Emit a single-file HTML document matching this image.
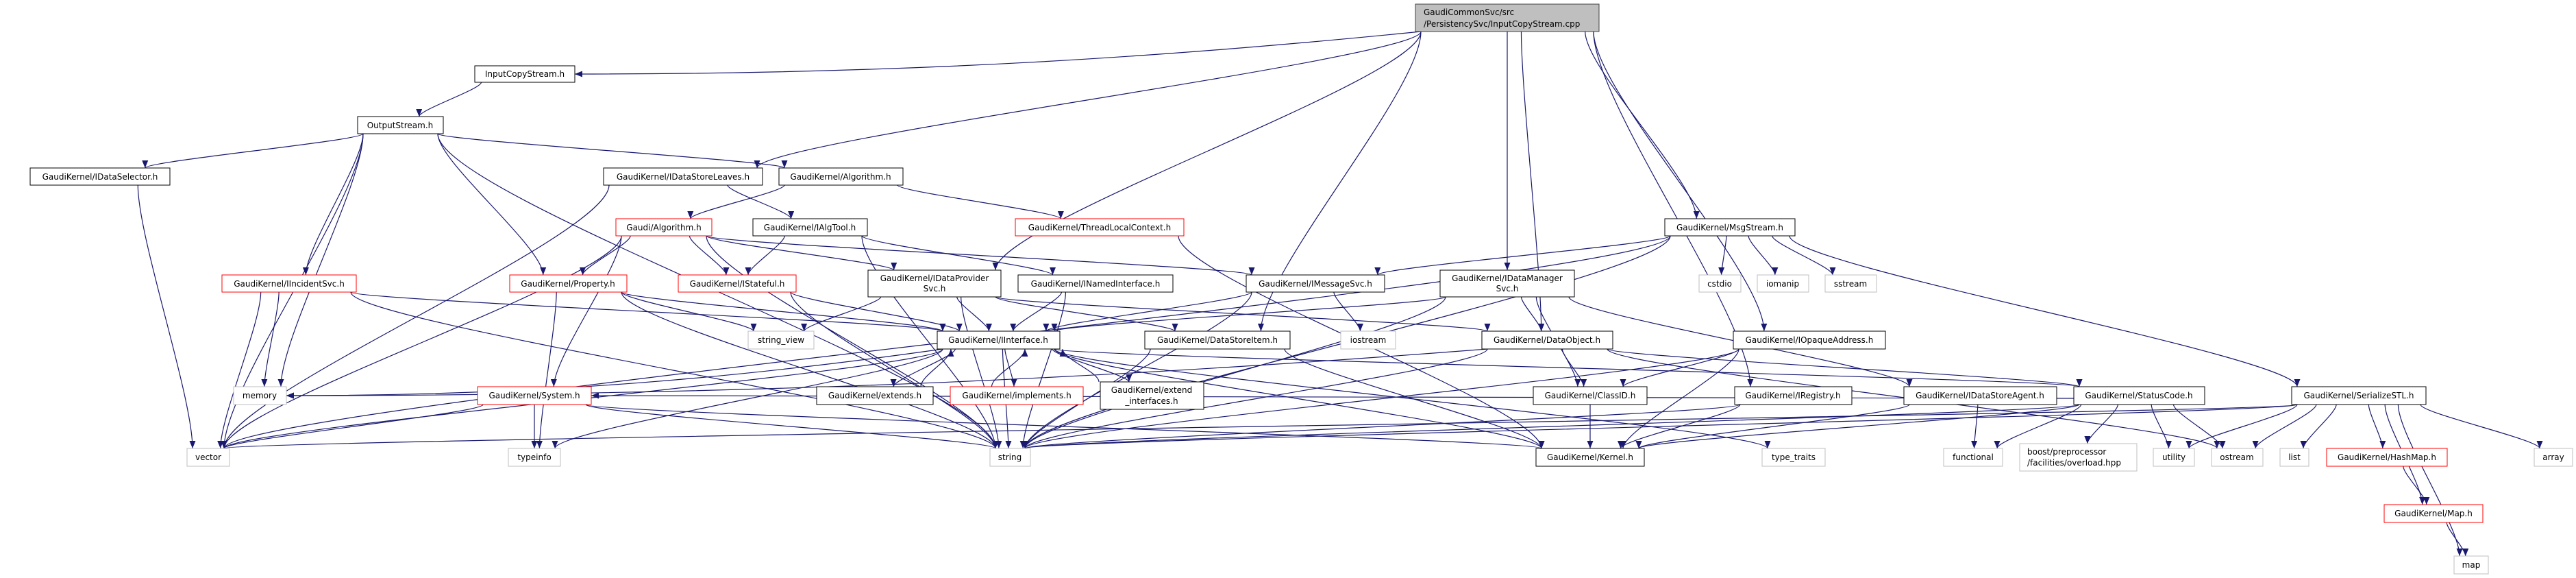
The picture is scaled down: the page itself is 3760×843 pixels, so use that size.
<!DOCTYPE html>
<html><head><meta charset="utf-8"><style>
html,body{margin:0;padding:0;background:#fff;}
svg{display:block;}
text{font-family:"DejaVu Sans","Liberation Sans",sans-serif;font-size:12px;fill:#000;}
</style></head><body>
<svg id="g" xmlns="http://www.w3.org/2000/svg" width="3760" height="843" viewBox="0 0 3760 843">
<defs><marker id="a" markerUnits="userSpaceOnUse" markerWidth="12" markerHeight="10" refX="11" refY="4.5" orient="auto"><path d="M0,0 L11,4.5 L0,9 z" fill="#191970"/></marker></defs>
<g id="edges" fill="none" stroke="#191970" stroke-width="1.2"></g>
<g id="nodes">
<rect x="2066" y="6" width="268" height="40" fill="#bfbfbf" stroke="#404040"/><text x="2078" y="22">GaudiCommonSvc/src</text><text x="2078" y="39">/PersistencySvc/InputCopyStream.cpp</text>
<rect x="693" y="96" width="146" height="24" fill="#fff" stroke="#000"/><text x="766" y="112" text-anchor="middle">InputCopyStream.h</text>
<rect x="522" y="170" width="125" height="25" fill="#fff" stroke="#000"/><text x="584" y="187" text-anchor="middle">OutputStream.h</text>
<rect x="44" y="245" width="204" height="25" fill="#fff" stroke="#000"/><text x="146" y="262" text-anchor="middle">GaudiKernel/IDataSelector.h</text>
<rect x="881" y="245" width="232" height="25" fill="#fff" stroke="#000"/><text x="997" y="262" text-anchor="middle">GaudiKernel/IDataStoreLeaves.h</text>
<rect x="1137" y="245" width="181" height="25" fill="#fff" stroke="#000"/><text x="1227" y="262" text-anchor="middle">GaudiKernel/Algorithm.h</text>
<rect x="899" y="319" width="140" height="25" fill="#fff" stroke="#f00"/><text x="969" y="336" text-anchor="middle">Gaudi/Algorithm.h</text>
<rect x="1099" y="319" width="167" height="25" fill="#fff" stroke="#000"/><text x="1182" y="336" text-anchor="middle">GaudiKernel/IAlgTool.h</text>
<rect x="1482" y="319" width="246" height="25" fill="#fff" stroke="#f00"/><text x="1605" y="336" text-anchor="middle">GaudiKernel/ThreadLocalContext.h</text>
<rect x="2430" y="319" width="190" height="25" fill="#fff" stroke="#000"/><text x="2525" y="336" text-anchor="middle">GaudiKernel/MsgStream.h</text>
<rect x="324" y="401" width="196" height="25" fill="#fff" stroke="#f00"/><text x="422" y="418" text-anchor="middle">GaudiKernel/IIncidentSvc.h</text>
<rect x="744" y="401" width="171" height="25" fill="#fff" stroke="#f00"/><text x="829" y="418" text-anchor="middle">GaudiKernel/Property.h</text>
<rect x="990" y="401" width="172" height="25" fill="#fff" stroke="#f00"/><text x="1076" y="418" text-anchor="middle">GaudiKernel/IStateful.h</text>
<rect x="1267" y="394" width="194" height="39" fill="#fff" stroke="#000"/><text x="1364" y="410" text-anchor="middle">GaudiKernel/IDataProvider</text><text x="1364" y="425" text-anchor="middle">Svc.h</text>
<rect x="1486" y="401" width="226" height="25" fill="#fff" stroke="#000"/><text x="1599" y="418" text-anchor="middle">GaudiKernel/INamedInterface.h</text>
<rect x="1819" y="401" width="202" height="25" fill="#fff" stroke="#000"/><text x="1920" y="418" text-anchor="middle">GaudiKernel/IMessageSvc.h</text>
<rect x="2102" y="394" width="196" height="39" fill="#fff" stroke="#000"/><text x="2200" y="410" text-anchor="middle">GaudiKernel/IDataManager</text><text x="2200" y="425" text-anchor="middle">Svc.h</text>
<rect x="2480" y="401" width="61" height="25" fill="#fff" stroke="#bfbfbf"/><text x="2510" y="418" text-anchor="middle">cstdio</text>
<rect x="2565" y="401" width="75" height="25" fill="#fff" stroke="#bfbfbf"/><text x="2602" y="418" text-anchor="middle">iomanip</text>
<rect x="2664" y="401" width="75" height="25" fill="#fff" stroke="#bfbfbf"/><text x="2701" y="418" text-anchor="middle">sstream</text>
<rect x="1092" y="483" width="96" height="26" fill="#fff" stroke="#bfbfbf"/><text x="1140" y="500" text-anchor="middle">string_view</text>
<rect x="1368" y="483" width="179" height="26" fill="#fff" stroke="#000"/><text x="1457" y="500" text-anchor="middle">GaudiKernel/IInterface.h</text>
<rect x="1671" y="483" width="212" height="26" fill="#fff" stroke="#000"/><text x="1777" y="500" text-anchor="middle">GaudiKernel/DataStoreItem.h</text>
<rect x="1957" y="483" width="80" height="26" fill="#fff" stroke="#bfbfbf"/><text x="1997" y="500" text-anchor="middle">iostream</text>
<rect x="2163" y="483" width="191" height="26" fill="#fff" stroke="#000"/><text x="2258" y="500" text-anchor="middle">GaudiKernel/DataObject.h</text>
<rect x="2530" y="483" width="222" height="26" fill="#fff" stroke="#000"/><text x="2641" y="500" text-anchor="middle">GaudiKernel/IOpaqueAddress.h</text>
<rect x="341" y="564" width="77" height="26" fill="#fff" stroke="#bfbfbf"/><text x="379" y="581" text-anchor="middle">memory</text>
<rect x="697" y="564" width="166" height="26" fill="#fff" stroke="#f00"/><text x="780" y="581" text-anchor="middle">GaudiKernel/System.h</text>
<rect x="1192" y="564" width="170" height="26" fill="#fff" stroke="#000"/><text x="1277" y="581" text-anchor="middle">GaudiKernel/extends.h</text>
<rect x="1387" y="564" width="194" height="26" fill="#fff" stroke="#f00"/><text x="1484" y="581" text-anchor="middle">GaudiKernel/implements.h</text>
<rect x="1606" y="557" width="151" height="40" fill="#fff" stroke="#000"/><text x="1681" y="573" text-anchor="middle">GaudiKernel/extend</text><text x="1681" y="589" text-anchor="middle">_interfaces.h</text>
<rect x="2238" y="564" width="166" height="26" fill="#fff" stroke="#000"/><text x="2321" y="581" text-anchor="middle">GaudiKernel/ClassID.h</text>
<rect x="2532" y="564" width="171" height="26" fill="#fff" stroke="#000"/><text x="2617" y="581" text-anchor="middle">GaudiKernel/IRegistry.h</text>
<rect x="2779" y="564" width="223" height="26" fill="#fff" stroke="#000"/><text x="2890" y="581" text-anchor="middle">GaudiKernel/IDataStoreAgent.h</text>
<rect x="3027" y="564" width="191" height="26" fill="#fff" stroke="#000"/><text x="3122" y="581" text-anchor="middle">GaudiKernel/StatusCode.h</text>
<rect x="3345" y="564" width="196" height="26" fill="#fff" stroke="#000"/><text x="3443" y="581" text-anchor="middle">GaudiKernel/SerializeSTL.h</text>
<rect x="273" y="654" width="62" height="26" fill="#fff" stroke="#bfbfbf"/><text x="304" y="671" text-anchor="middle">vector</text>
<rect x="742" y="654" width="76" height="26" fill="#fff" stroke="#bfbfbf"/><text x="780" y="671" text-anchor="middle">typeinfo</text>
<rect x="1445" y="654" width="59" height="26" fill="#fff" stroke="#bfbfbf"/><text x="1474" y="671" text-anchor="middle">string</text>
<rect x="2242" y="654" width="158" height="26" fill="#fff" stroke="#000"/><text x="2321" y="671" text-anchor="middle">GaudiKernel/Kernel.h</text>
<rect x="2572" y="654" width="92" height="26" fill="#fff" stroke="#bfbfbf"/><text x="2618" y="671" text-anchor="middle">type_traits</text>
<rect x="2837" y="654" width="86" height="26" fill="#fff" stroke="#bfbfbf"/><text x="2880" y="671" text-anchor="middle">functional</text>
<rect x="2948" y="647" width="171" height="40" fill="#fff" stroke="#bfbfbf"/><text x="2959" y="663">boost/preprocessor</text><text x="2959" y="679">/facilities/overload.hpp</text>
<rect x="3143" y="654" width="60" height="26" fill="#fff" stroke="#bfbfbf"/><text x="3173" y="671" text-anchor="middle">utility</text>
<rect x="3228" y="654" width="75" height="26" fill="#fff" stroke="#bfbfbf"/><text x="3265" y="671" text-anchor="middle">ostream</text>
<rect x="3328" y="654" width="42" height="26" fill="#fff" stroke="#bfbfbf"/><text x="3349" y="671" text-anchor="middle">list</text>
<rect x="3396" y="654" width="176" height="26" fill="#fff" stroke="#f00"/><text x="3484" y="671" text-anchor="middle">GaudiKernel/HashMap.h</text>
<rect x="3699" y="654" width="56" height="26" fill="#fff" stroke="#bfbfbf"/><text x="3727" y="671" text-anchor="middle">array</text>
<rect x="3480" y="736" width="144" height="26" fill="#fff" stroke="#f00"/><text x="3552" y="753" text-anchor="middle">GaudiKernel/Map.h</text>
<rect x="3582" y="811" width="50" height="26" fill="#fff" stroke="#bfbfbf"/><text x="3607" y="828" text-anchor="middle">map</text>
</g>
</svg>
<script>
var N={root:[2066,6,2334,46],ICS:[693,96,839,120],OS:[522,170,647,195],IDS:[44,245,248,270],IDSL:[881,245,1113,270],ALG:[1137,245,1318,270],GALG:[899,319,1039,344],IAT:[1099,319,1266,344],TLC:[1482,319,1728,344],MSG:[2430,319,2620,344],IIS:[324,401,520,426],PROP:[744,401,915,426],IST:[990,401,1162,426],IDPS:[1267,394,1461,433],INI:[1486,401,1712,426],IMS:[1819,401,2021,426],IDMS:[2102,394,2298,433],cstdio:[2480,401,2541,426],iomanip:[2565,401,2640,426],sstream:[2664,401,2739,426],SV:[1092,483,1188,509],II:[1368,483,1547,509],DSI:[1671,483,1883,509],iostream:[1957,483,2037,509],DO:[2163,483,2354,509],IOA:[2530,483,2752,509],memory:[341,564,418,590],SYS:[697,564,863,590],EXT:[1192,564,1362,590],IMPL:[1387,564,1581,590],EXTI:[1606,557,1757,597],CID:[2238,564,2404,590],IREG:[2532,564,2703,590],IDSA:[2779,564,3002,590],SC:[3027,564,3218,590],SSTL:[3345,564,3541,590],vector:[273,654,335,680],typeinfo:[742,654,818,680],string:[1445,654,1504,680],Kernel:[2242,654,2400,680],type_traits:[2572,654,2664,680],functional:[2837,654,2923,680],boost:[2948,647,3119,687],utility:[3143,654,3203,680],ostream:[3228,654,3303,680],list:[3328,654,3370,680],HashMap:[3396,654,3572,680],array:[3699,654,3755,680],Map:[3480,736,3624,762],map:[3582,811,3632,837]};
var E=[['root','ICS','r'],['root','IDSL'],['root','IDPS'],['root','DSI'],['root','IDMS'],['root','DO'],['root','IREG'],['root','MSG'],['root','IOA'],['ICS','OS'],['OS','vector'],['OS','IDS'],['OS','memory'],['OS','IIS'],['OS','string'],['OS','PROP'],['OS','ALG'],['IDS','vector'],['IDSL','vector'],['IDSL','IAT'],['ALG','GALG'],['ALG','TLC'],['GALG','vector'],['GALG','SYS'],['GALG','PROP'],['GALG','IST'],['GALG','string'],['GALG','IDPS'],['GALG','IMS'],['IAT','IST'],['IAT','string'],['IAT','INI'],['TLC','Kernel'],['IIS','II'],['IIS','vector'],['IIS','memory'],['IIS','string'],['PROP','SV'],['PROP','typeinfo'],['PROP','string'],['PROP','II'],['IST','II'],['IST','string'],['IDPS','SV'],['IDPS','string'],['IDPS','II'],['IDPS','DSI'],['IDPS','DO'],['INI','II'],['INI','string'],['IMS','II'],['IMS','iostream'],['IMS','string'],['MSG','vector'],['MSG','IMS'],['MSG','string'],['MSG','cstdio'],['MSG','iomanip'],['MSG','sstream'],['MSG','SSTL'],['IDMS','II'],['IDMS','DO'],['IDMS','CID'],['IDMS','string'],['IDMS','IDSA'],['II','string'],['II','EXT'],['II','IMPL'],['II','EXTI'],['II','type_traits'],['II','Kernel'],['II','SC'],['II','typeinfo'],['II','vector'],['II','memory','r'],['EXT','II','b'],['IMPL','II','b'],['EXTI','II','b'],['DSI','string'],['DSI','Kernel'],['DO','CID'],['DO','SC'],['DO','ostream'],['DO','memory','r'],['DO','string'],['IOA','CID'],['IOA','string'],['IOA','Kernel'],['CID','Kernel'],['IREG','Kernel'],['IREG','string'],['IDSA','functional'],['IDSA','Kernel'],['SC','string'],['SC','Kernel'],['SC','functional'],['SC','boost'],['SC','utility'],['SC','ostream'],['SC','SYS','r'],['SYS','vector'],['SYS','typeinfo'],['SYS','string'],['SYS','Kernel'],['SSTL','vector'],['SSTL','utility'],['SSTL','ostream'],['SSTL','list'],['SSTL','HashMap'],['SSTL','Map'],['SSTL','map'],['SSTL','array'],['SSTL','string'],['HashMap','Map'],['Map','map']];
function cl(v,a,b){return Math.max(a,Math.min(b,v));}
var g=document.getElementById('edges'),s='';
E.forEach(function(e){var A=N[e[0]],B=N[e[1]],m=e[2];
var acx=(A[0]+A[2])/2,bcx=(B[0]+B[2])/2,sx,sy,ex,ey,d;
if(m==='b'){sx=cl(bcx,A[0]+8,A[2]-8)-10;sy=A[1];ex=cl(acx,B[0]+8,B[2]-8)+12;ey=B[3];d=(ey-sy)*0.3;
s+='<path marker-end="url(#a)" d="M'+sx+','+sy+' C'+sx+','+(sy+d)+' '+ex+','+(ey-d)+' '+ex+','+ey+'"/>';return;}
if(m==='r'){ex=B[2];ey=(B[1]+B[3])/2;if(A[3]<B[1]){sx=cl(acx+(bcx-acx)*0.3,A[0]+8,A[2]-8);sy=A[3];}else{sx=A[0];sy=(A[1]+A[3])/2+4;}
s+='<path marker-end="url(#a)" d="M'+sx+','+sy+' C'+(sx+(ex-sx)*0.3)+','+(sy+(ey-sy)*0.6)+' '+(ex+(sx-ex)*0.4)+','+ey+' '+ex+','+ey+'"/>';return;}
var k=0.35;sx=cl(acx+(bcx-acx)*k,A[0]+8,A[2]-8);sy=A[3];ex=cl(bcx+(acx-bcx)*0.15,B[0]+8,B[2]-8);ey=B[1];d=(ey-sy)*0.2;
s+='<path marker-end="url(#a)" d="M'+sx+','+sy+' C'+sx+','+(sy+d)+' '+ex+','+(ey-d)+' '+ex+','+ey+'"/>';});
g.innerHTML=s;
</script>
</body></html>
